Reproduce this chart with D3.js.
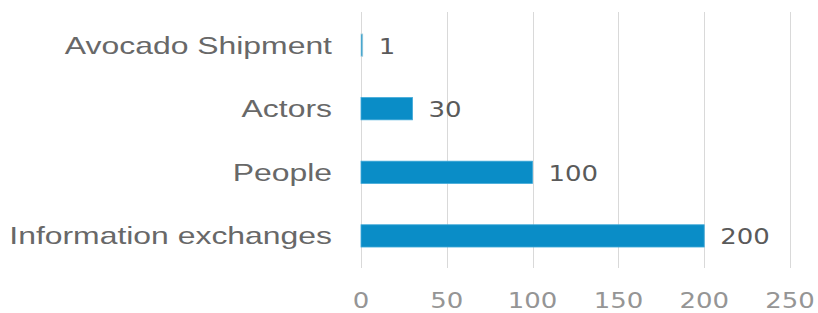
<!DOCTYPE html>
<html>
<head>
<meta charset="utf-8">
<script src="https://cdn.jsdelivr.net/npm/d3@7"></script>
<style>
  body { margin: 0; background: #fff; }
</style>
</head>
<body>
<div id="chart"></div>
<script>
  // data, top to bottom
  var categories = ["Avocado Shipment", "Actors", "People", "Information exchanges"];
  var values = [1, 30, 100, 200];
  var tickValues = [0, 50, 100, 150, 200, 250];

  var W = 818, H = 313;
  var margin = {top: 13, right: 28, bottom: 45, left: 361};

  var svg = d3.select("#chart").append("svg")
      .attr("width", W)
      .attr("height", H);

  ////// scales //////
  var xScale = d3.scaleLinear()
      .domain([0, 250])
      .range([margin.left, W - margin.right]);

  var yScale = d3.scaleBand()
      .domain(categories)
      .range([margin.top, H - margin.bottom])
      .paddingInner(0.65)
      .paddingOuter(0.33);

  // stretch text horizontally like the original picture
  function stretched(sel, sx) {
    sel.attr("transform", function() {
      var x = +d3.select(this).attr("x"), y = +d3.select(this).attr("y");
      return "translate(" + x + "," + y + ") scale(" + sx + ",1)";
    }).attr("x", 0).attr("y", 0);
  }

  // gridlines
  svg.append("g")
      .selectAll("line")
      .data(tickValues)
      .enter()
      .append("line")
      .attr("x1", function(d) { return Math.round(xScale(d)) + 0.5; })
      .attr("x2", function(d) { return Math.round(xScale(d)) + 0.5; })
      .attr("y1", 12)
      .attr("y2", 268)
      .attr("stroke", "#d9d9d9")
      .attr("stroke-width", 1);

  // tick labels
  svg.append("g")
      .selectAll("text")
      .data(tickValues)
      .enter()
      .append("text")
      .attr("x", function(d) { return xScale(d); })
      .attr("y", 308)
      .attr("text-anchor", "middle")
      .attr("font-family", "DejaVu Sans")
      .attr("font-size", 22)
      .attr("fill", "#959595")
      .text(function(d) { return d; })
      .call(stretched, 1.18);

  // bars
  svg.append("g")
      .selectAll("rect")
      .data(values)
      .enter()
      .append("rect")
      .attr("x", xScale(0))
      .attr("y", function(d, i) { return yScale(categories[i]); })
      .attr("width", function(d) { return xScale(d) - xScale(0); })
      .attr("height", yScale.bandwidth())
      .attr("fill", "#0a8dc7")
      .attr("stroke", function(d) { return d < 5 ? "#a9cfdc" : "#3fa9d9"; })
      .attr("stroke-width", 0.8);

  // value labels
  svg.append("g")
      .selectAll("text")
      .data(values)
      .enter()
      .append("text")
      .attr("x", function(d) { return xScale(d) + 16; })
      .attr("y", function(d, i) { return yScale(categories[i]) + yScale.bandwidth() / 2 + 8.5; })
      .attr("font-family", "DejaVu Sans")
      .attr("font-size", 22)
      .attr("fill", "#5a5a5a")
      .text(function(d) { return d; })
      .call(stretched, 1.18);

  // category labels
  svg.append("g")
      .selectAll("text")
      .data(categories)
      .enter()
      .append("text")
      .attr("x", 332)
      .attr("y", function(d) { return yScale(d) + yScale.bandwidth() / 2 + 8.5; })
      .attr("text-anchor", "end")
      .attr("font-family", "Liberation Sans, Arial")
      .attr("font-size", 24)
      .attr("fill", "#686868")
      .text(function(d) { return d; })
      .call(stretched, 1.33);
</script>
</body>
</html>
